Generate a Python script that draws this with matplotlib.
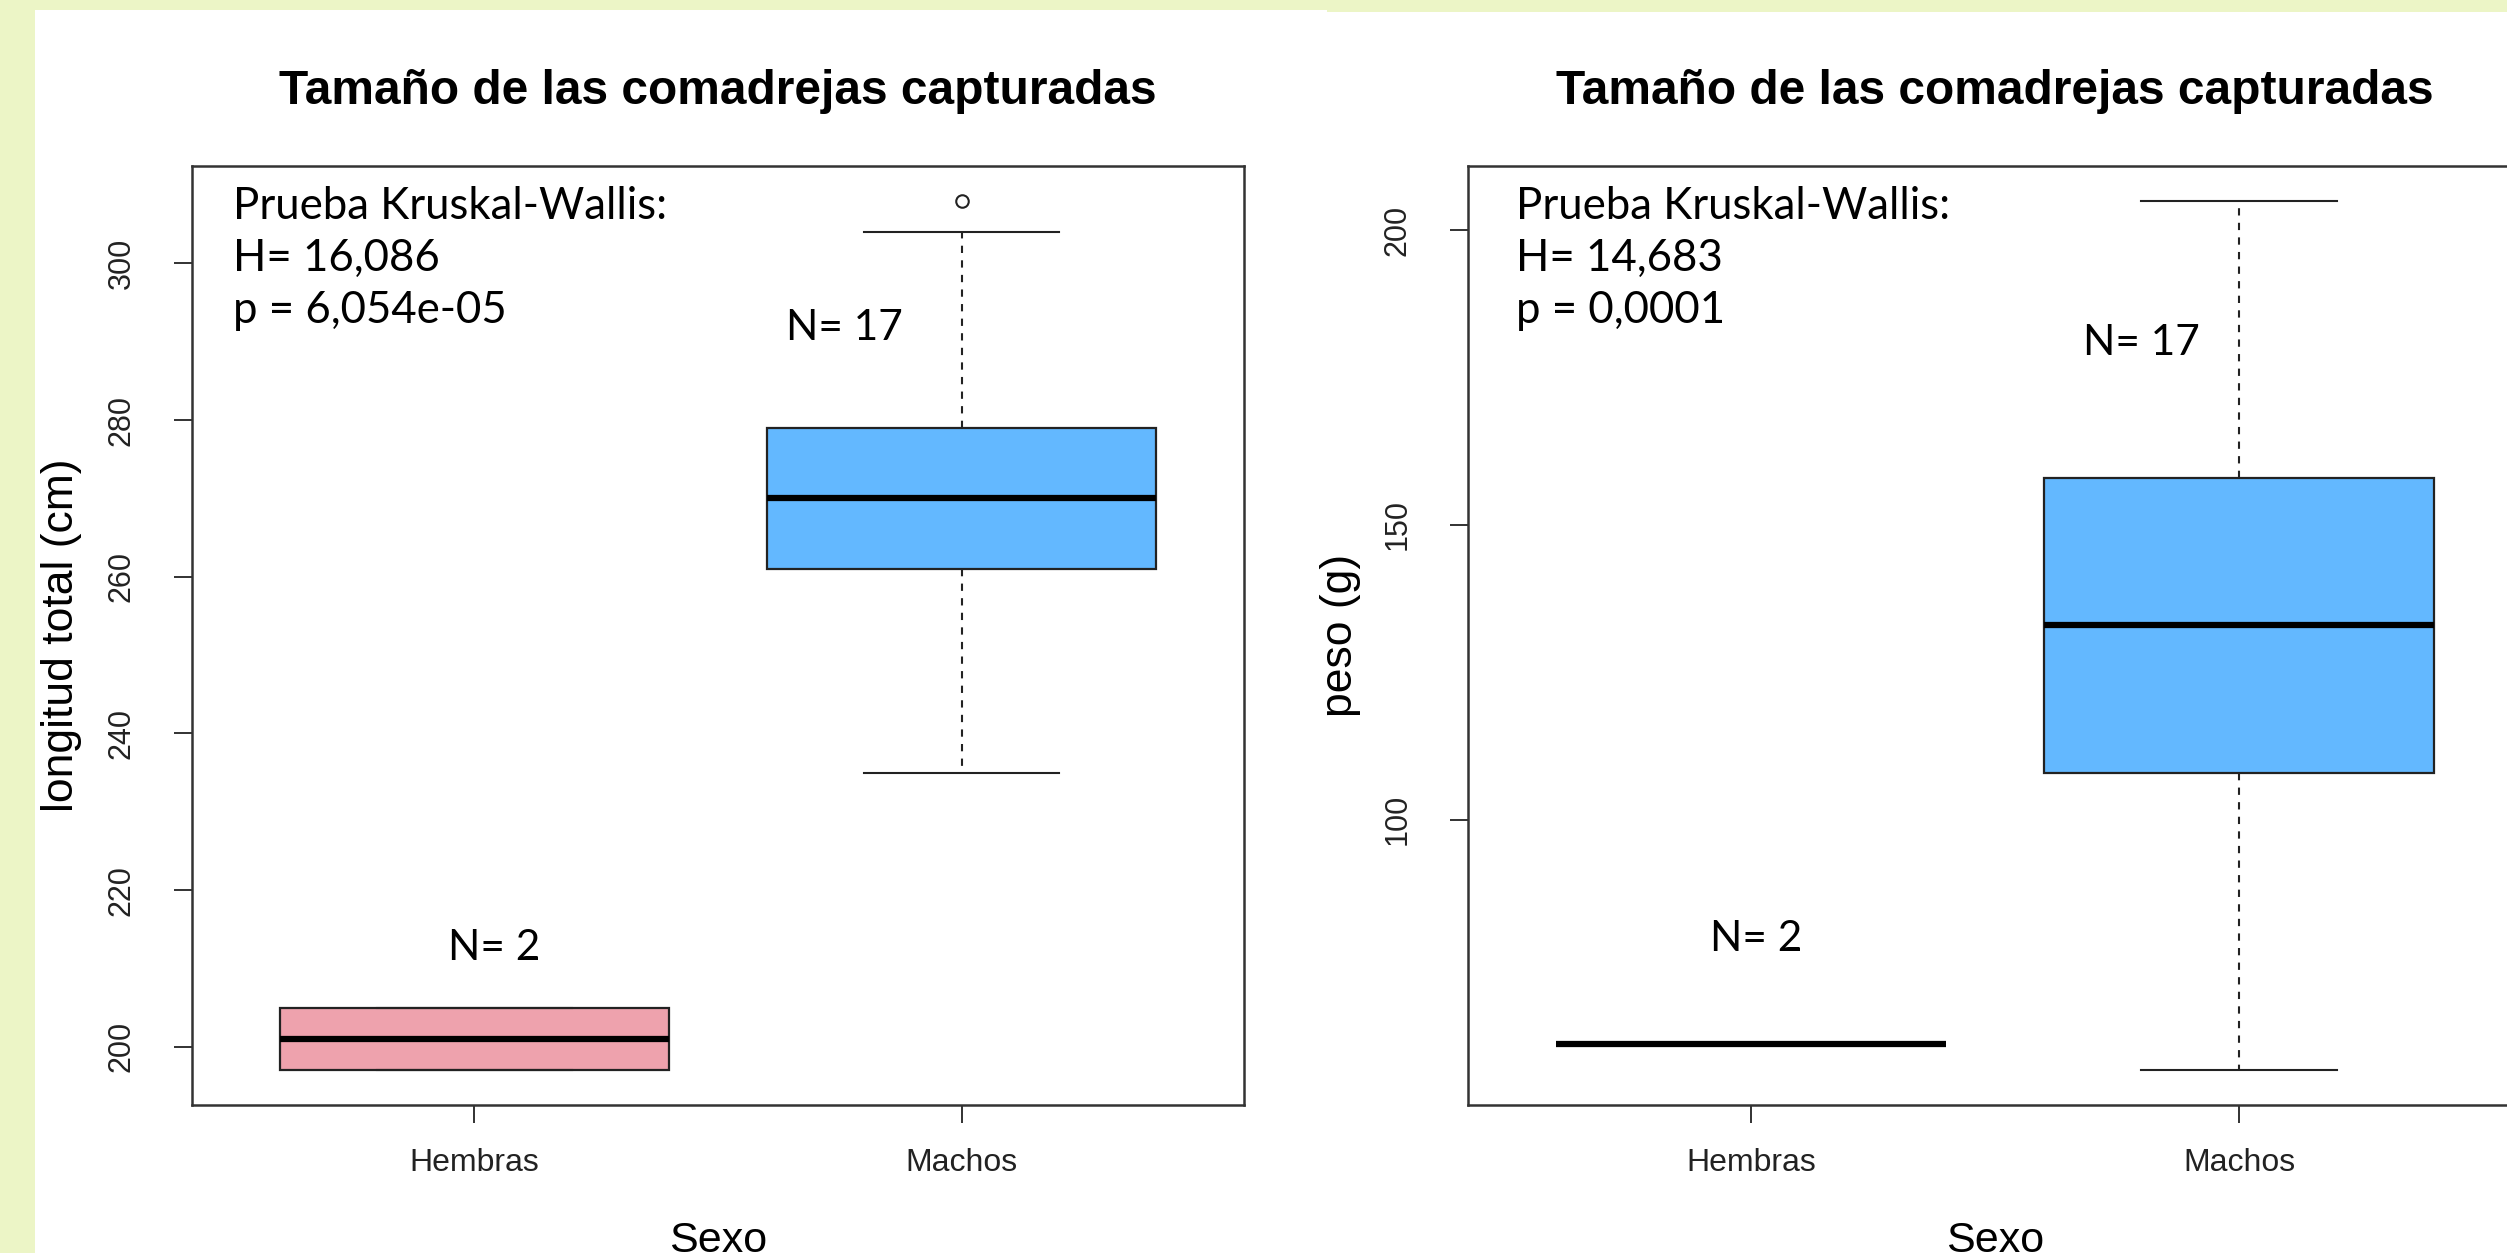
import matplotlib
matplotlib.use("Agg")
import matplotlib.pyplot as plt
from matplotlib.patches import Rectangle

# ---- data ----
categories = ["Hembras", "Machos"]
box_colors = ["#EEA2AD", "#63B8FF"]

# longitud total (cm): five-number summaries per sex
long_whislo = [197, 235]
long_q1 = [197, 261]
long_med = [201, 270]
long_q3 = [205, 279]
long_whishi = [205, 304]
long_fliers = [[], [308]]

# peso (g): five-number summaries per sex
peso_whislo = [62, 57.5]
peso_q1 = [62, 108]
peso_med = [62, 133]
peso_q3 = [62, 158]
peso_whishi = [62, 205]
peso_fliers = [[], []]

n_counts = [2, 17]
long_yticks = [200, 220, 240, 260, 280, 300]
peso_yticks = [100, 150, 200]

title = "Tamaño de las comadrejas capturadas"
kw_long = ["Prueba Kruskal-Wallis:", "H= 16,086", "p = 6,054e-05"]
kw_peso = ["Prueba Kruskal-Wallis:", "H= 14,683", "p = 0,0001"]

# ---- figure ----
W, H = 2507, 1253
fig = plt.figure(figsize=(W / 100, H / 100), dpi=100)
fig.patch.set_facecolor("#ECF5C6")
fig.patches.append(Rectangle((35 / W, 0), (1327 - 35) / W, (H - 10) / H,
                             transform=fig.transFigure, facecolor="white",
                             edgecolor="none", zorder=-5))
fig.patches.append(Rectangle((1327 / W, 0), (W - 1327) / W, (H - 12) / H,
                             transform=fig.transFigure, facecolor="white",
                             edgecolor="none", zorder=-5))

RFONT = "Liberation Sans"
NOTEFONT = "Lato"
INK = "#222222"


def make_stats(whislo, q1, med, q3, whishi, fliers):
    return [dict(whislo=a, q1=b, med=c, q3=d, whishi=e, fliers=f, label=lab)
            for a, b, c, d, e, f, lab in zip(whislo, q1, med, q3, whishi, fliers, categories)]


def panel(rect, stats, yticks, ylabel, ylabel_x, kw_lines, kw_x, n_pos):
    ax = fig.add_axes(rect)
    ax.set_facecolor("none")
    bp = ax.bxp(stats, positions=[1, 2], widths=0.8, patch_artist=True,
                boxprops=dict(edgecolor=INK, linewidth=1.6),
                medianprops=dict(color="black", linewidth=4.5, solid_capstyle="butt"),
                whiskerprops=dict(color=INK, linewidth=1.5, linestyle=(0, (3.5, 3.5))),
                capprops=dict(color=INK, linewidth=1.5),
                flierprops=dict(marker="o", markersize=9, markerfacecolor="none",
                                markeredgecolor=INK, markeredgewidth=1.5),
                capwidths=0.4)
    for patch, col in zip(bp["boxes"], box_colors):
        patch.set_facecolor(col)

    all_lo = [s["whislo"] for s in stats] + [v for s in stats for v in s["fliers"]]
    all_hi = [s["whishi"] for s in stats] + [v for s in stats for v in s["fliers"]]
    lo, hi = min(all_lo), max(all_hi)
    pad = 0.04 * (hi - lo)
    ax.set_ylim(lo - pad, hi + pad)
    ax.set_xlim(0.42, 2.58)

    ax.set_yticks(yticks)
    ax.set_yticklabels([str(t) for t in yticks], rotation=90, va="center",
                       fontfamily=RFONT, fontsize=22, color=INK)
    ax.set_xticks([1, 2])
    ax.set_xticklabels(categories, fontfamily=RFONT, fontsize=23, color=INK)
    ax.tick_params(axis="y", length=13, width=1.3, color=INK, pad=27)
    ax.tick_params(axis="x", length=13, width=1.3, color=INK, pad=18)
    for sp in ax.spines.values():
        sp.set_color("#333333")
        sp.set_linewidth(1.8)

    ax.set_title(title, fontfamily=RFONT, fontweight="bold", fontsize=34.5, pad=45)
    ax.set_ylabel(ylabel, fontfamily=RFONT, fontsize=32, va="center")
    ax.yaxis.set_label_coords(ylabel_x, 0.5)
    ax.set_xlabel("Sexo", fontfamily=RFONT, fontsize=31, va="center")
    ax.xaxis.set_label_coords(0.5, -0.145)

    for i, line in enumerate(kw_lines):
        ax.text(kw_x, 0.957 - i * 0.0555, line, transform=ax.transAxes,
                ha="left", va="center", fontfamily=NOTEFONT, fontsize=31.5)
    for (x, y), n in zip(n_pos, n_counts):
        ax.text(x, y, f"N= {n}", ha="center", va="center",
                fontfamily=NOTEFONT, fontsize=30.5)
    return ax


panel([192 / W, (H - 1105) / H, 1052 / W, 939 / H],
      make_stats(long_whislo, long_q1, long_med, long_q3, long_whishi, long_fliers),
      long_yticks, "longitud total (cm)", -0.1245, kw_long, 0.039,
      [(1.04, 212.6), (1.76, 291.8)])

panel([1468 / W, (H - 1105) / H, 1054 / W, 939 / H],
      make_stats(peso_whislo, peso_q1, peso_med, peso_q3, peso_whishi, peso_fliers),
      peso_yticks, "peso (g)", -0.121, kw_peso, 0.046,
      [(1.01, 79.7), (1.80, 180.8)])

fig.savefig("out.png", dpi=100)
